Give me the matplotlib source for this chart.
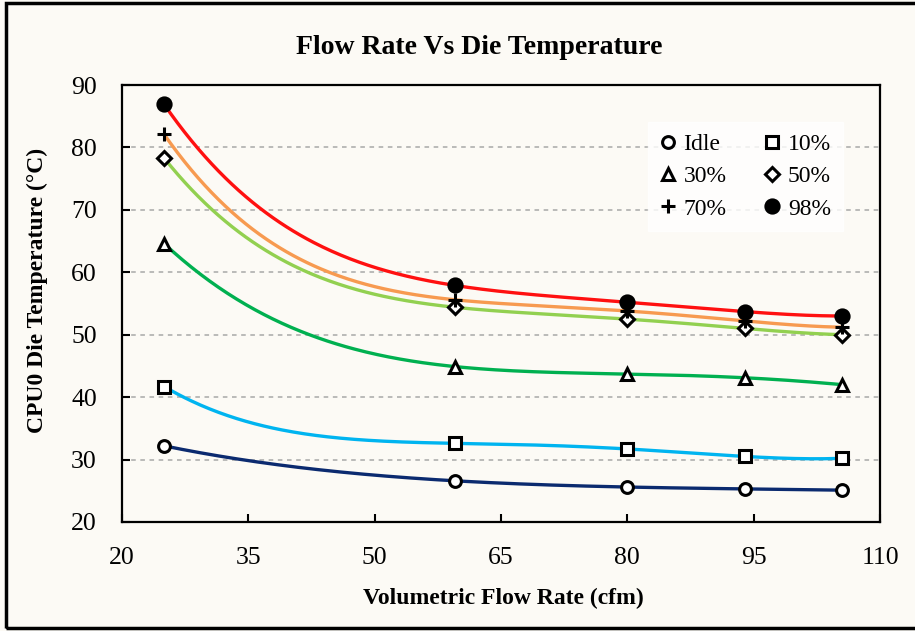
import numpy as np
import matplotlib.pyplot as plt
from matplotlib.lines import Line2D
from matplotlib.patches import Rectangle

# volumetric flow rate (cfm) and CPU0 die temperature (deg C) per load level
flow_cfm = [25, 59.5, 80, 94, 105.5]

idle = [32.2, 26.6, 25.6, 25.3, 25.1]
load_10 = [41.7, 32.6, 31.7, 30.5, 30.2]
load_30 = [64.6, 44.9, 43.7, 43.1, 42.0]
load_50 = [78.3, 54.4, 52.5, 51.0, 50.0]
load_70 = [82.1, 55.6, 53.8, 52.2, 51.2]
load_98 = [86.9, 57.9, 55.2, 53.7, 53.0]

labels = ['Idle', '10%', '30%', '50%', '70%', '98%']
x_ticks = [20, 35, 50, 65, 80, 95, 110]
y_ticks = [20, 30, 40, 50, 60, 70, 80, 90]

BG = '#FCFAF5'
COLORS = ['#0B2A6F', '#00B4F0', '#00B050', '#92D050', '#F79A50', '#FF1010']
MARKERS = [('o', 'white'), ('s', 'white'), ('^', 'white'),
           ('D', 'white'), ('+', 'black'), ('o', 'black')]
MSIZE = [8.5, 8.5, 9, 7, 9.5, 9.5]

plt.rcParams['font.family'] = ['Liberation Serif', 'DejaVu Serif']

fig = plt.figure(figsize=(9.15, 6.31), dpi=100, facecolor=BG)
ax = fig.add_axes([122 / 915, 1 - 522 / 631, 758 / 915, 437 / 631])
ax.set_facecolor(BG)

series = [idle, load_10, load_30, load_50, load_70, load_98]
handles = []
xs = np.linspace(flow_cfm[0], flow_cfm[-1], 300)
for vals, color, (mk, fc), ms, lab in zip(series, COLORS, MARKERS, MSIZE, labels):
    # order-4 polynomial trendline through the five measurements
    coef = np.polyfit(flow_cfm, vals, 4)
    ax.plot(xs, np.polyval(coef, xs), color=color, lw=2.4, zorder=2,
            solid_capstyle='round')
    ax.plot(flow_cfm, vals, linestyle='none', marker=mk, ms=ms,
            mfc=fc, mec='black', mew=2.2, zorder=3)
    handles.append(Line2D([], [], linestyle='none', marker=mk, ms=ms,
                          mfc=fc, mec='black', mew=2.2, label=lab))

ax.set_xlim(20, 110)
ax.set_ylim(20, 90)
ax.set_xticks(x_ticks)
ax.set_yticks(y_ticks)
ax.tick_params(direction='in', length=6, width=1.5, labelsize=18.5, pad=18,
               colors='black')
ax.tick_params(top=False, right=False)
for sp in ax.spines.values():
    sp.set_linewidth(1.6)
    sp.set_color('black')

ax.yaxis.grid(True, color='#A8A8A8', lw=1.1, linestyle=(0, (3, 3)))
ax.set_axisbelow(True)

fig.text(479 / 915, 1 - 47 / 631, 'Flow Rate Vs Die Temperature',
         ha='center', va='center', fontsize=20, fontweight='bold')
fig.text(37 / 915, 1 - 290 / 631, 'CPU0 Die Temperature (°C)',
         ha='center', va='center', rotation=90, fontsize=17, fontweight='bold')
fig.text(503 / 915, 1 - 598 / 631, 'Volumetric Flow Rate (cfm)',
         ha='center', va='center', fontsize=17, fontweight='bold')

order = [0, 2, 4, 1, 3, 5]
leg = ax.legend([handles[i] for i in order], [labels[i] for i in order],
                ncol=2, loc='upper left',
                bbox_to_anchor=(648 / 915, 1 - 122 / 631),
                bbox_transform=fig.transFigure, fontsize=17,
                frameon=True, fancybox=False, handlelength=0.7,
                handletextpad=0.3, columnspacing=1.6, labelspacing=0.45,
                borderpad=0.5, borderaxespad=0)
leg.get_frame().set_facecolor('white')
leg.get_frame().set_edgecolor('white')

fig.patches.append(Rectangle((6 / 915, 3 / 631), 1.0, 1 - 6 / 631,
                             transform=fig.transFigure, fill=False,
                             edgecolor='black', lw=2.5, clip_on=False))

fig.savefig('out.png', dpi=100, facecolor=BG)
